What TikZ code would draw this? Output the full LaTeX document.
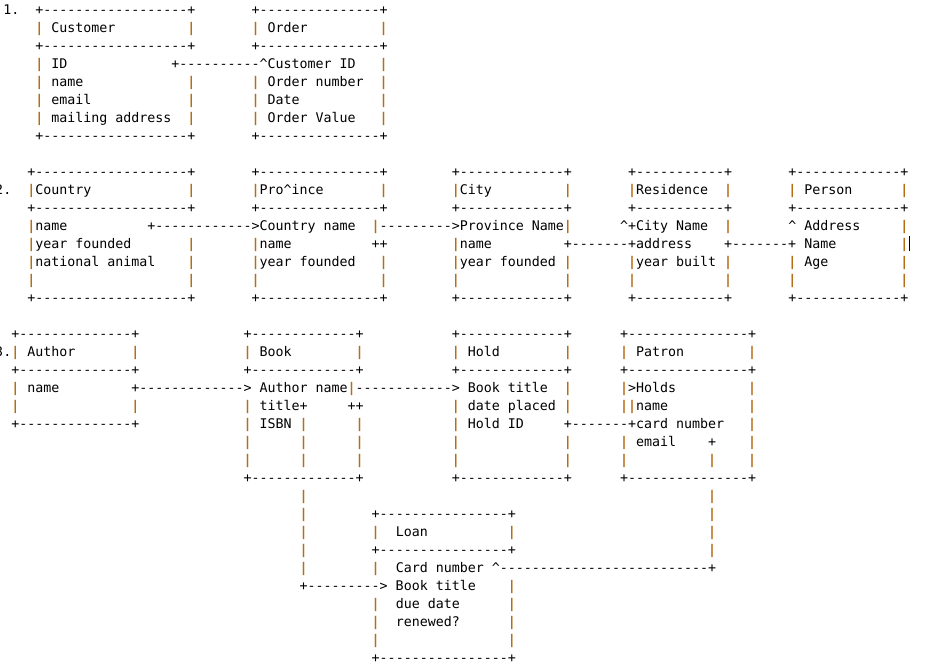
\documentclass[tikz,border=0pt]{standalone}
\usepackage{fontspec}
\setmonofont{DejaVu Sans Mono}
\definecolor{barorange}{RGB}{182,108,22}
\newlength{\charw}
\setlength{\charw}{8.01pt}
\newcommand{\vb}{\textcolor{barorange}{\bfseries|}}
\newcommand{\gap}[1]{\hspace*{#1\charw}}
\ExplSyntaxOn
\NewDocumentCommand{\dsh}{m}{\prg_replicate:nn{#1}{-}}
\ExplSyntaxOff

\begin{document}
\begin{tikzpicture}[
  x=8.01pt, y=-18pt,
  asc/.style={font=\ttfamily\fontsize{13.3045pt}{18pt}\selectfont,
    anchor=base west, inner sep=0pt, outer sep=0pt, text=black},
]

% Background
\path[fill=white, use as bounding box] (0.5936,-0.778) rectangle (117.57,36.28);

% =============================================
% 1. Customer -- Order
% =============================================
\node[asc] (ln0) at (1,0) {1.\gap{2}+\dsh{18}+\gap{7}+\dsh{15}+};
\node[asc] (ln1) at (5,1) {\vb\gap{1}Customer\gap{9}\vb\gap{7}\vb\gap{1}Order\gap{9}\vb};
\node[asc] (ln2) at (5,2) {+\dsh{18}+\gap{7}+\dsh{15}+};
\node[asc] (ln3) at (5,3) {\vb\gap{1}ID\gap{13}+\dsh{10}\textasciicircum Customer ID\gap{3}\vb};
\node[asc] (ln4) at (5,4) {\vb\gap{1}name\gap{13}\vb\gap{7}\vb\gap{1}Order number\gap{2}\vb};
\node[asc] (ln5) at (5,5) {\vb\gap{1}email\gap{12}\vb\gap{7}\vb\gap{1}Date\gap{10}\vb};
\node[asc] (ln6) at (5,6) {\vb\gap{1}mailing address\gap{2}\vb\gap{7}\vb\gap{1}Order Value\gap{3}\vb};
\node[asc] (ln7) at (5,7) {+\dsh{18}+\gap{7}+\dsh{15}+};

% =============================================
% 2. Country -- Province -- City -- Residence -- Person
% =============================================
\node[asc] (ln9) at (4,9)
  {+\dsh{19}+\gap{7}+\dsh{15}+\gap{8}+\dsh{13}+\gap{7}+\dsh{11}+\gap{7}+\dsh{13}+};
\node[asc] (ln10) at (0,10)
  {2.\gap{2}\vb Country\gap{12}\vb\gap{7}\vb Pro\textasciicircum ince\gap{7}\vb\gap{8}\vb City\gap{9}\vb\gap{7}\vb Residence\gap{2}\vb\gap{7}\vb\gap{1}Person\gap{6}\vb};
\node[asc] (ln11) at (4,11)
  {+\dsh{19}+\gap{7}+\dsh{15}+\gap{8}+\dsh{13}+\gap{7}+\dsh{11}+\gap{7}+\dsh{13}+};
\node[asc] (ln12) at (4,12)
  {\vb name\gap{10}+\dsh{12}>Country name\gap{2}\vb\dsh{9}>Province Name\vb\gap{6}\textasciicircum+City Name\gap{2}\vb\gap{7}\textasciicircum\gap{1}Address\gap{5}\vb};
\node[asc] (ln13) at (4,13)
  {\vb year founded\gap{7}\vb\gap{7}\vb name\gap{10}++\gap{8}\vb name\gap{9}+\dsh{7}+address\gap{4}+\dsh{7}+\gap{1}Name\gap{8}\vb};
\node[asc] (ln14) at (4,14)
  {\vb national animal\gap{4}\vb\gap{7}\vb year founded\gap{3}\vb\gap{8}\vb year founded\gap{1}\vb\gap{7}\vb year built\gap{1}\vb\gap{7}\vb\gap{1}Age\gap{9}\vb};
\node[asc] (ln15) at (4,15)
  {\vb\gap{19}\vb\gap{7}\vb\gap{15}\vb\gap{8}\vb\gap{13}\vb\gap{7}\vb\gap{11}\vb\gap{7}\vb\gap{13}\vb};
\node[asc] (ln16) at (4,16)
  {+\dsh{19}+\gap{7}+\dsh{15}+\gap{8}+\dsh{13}+\gap{7}+\dsh{11}+\gap{7}+\dsh{13}+};

% text cursor
\draw[line width=1pt] ([xshift=0.6pt, yshift=-3.3pt]ln13.base east) -- ++(0,15.3pt);

% =============================================
% 3. Author -- Book -- Hold -- Patron -- Loan
% =============================================
\node[asc] (ln18) at (2,18) {+\dsh{14}+\gap{13}+\dsh{13}+\gap{11}+\dsh{13}+\gap{6}+\dsh{15}+};
\node[asc] (ln19) at (0,19)
  {3.\vb\gap{1}Author\gap{7}\vb\gap{13}\vb\gap{1}Book\gap{8}\vb\gap{11}\vb\gap{1}Hold\gap{8}\vb\gap{6}\vb\gap{1}Patron\gap{8}\vb};
\node[asc] (ln20) at (2,20) {+\dsh{14}+\gap{13}+\dsh{13}+\gap{11}+\dsh{13}+\gap{6}+\dsh{15}+};
\node[asc] (ln21) at (2,21)
  {\vb\gap{1}name\gap{9}+\dsh{13}>\gap{1}Author name\vb\dsh{12}>\gap{1}Book title\gap{2}\vb\gap{6}\vb>Holds\gap{9}\vb};
\node[asc] (ln22) at (2,22)
  {\vb\gap{14}\vb\gap{13}\vb\gap{1}title+\gap{5}++\gap{11}\vb\gap{1}date placed\gap{1}\vb\gap{6}\vb\vb name\gap{10}\vb};
\node[asc] (ln23) at (2,23)
  {+\dsh{14}+\gap{13}\vb\gap{1}ISBN\gap{1}\vb\gap{6}\vb\gap{11}\vb\gap{1}Hold ID\gap{5}+\dsh{7}+card number\gap{3}\vb};
\node[asc] (ln24) at (31,24) {\vb\gap{6}\vb\gap{6}\vb\gap{11}\vb\gap{13}\vb\gap{6}\vb\gap{1}email\gap{4}+\gap{4}\vb};
\node[asc] (ln25) at (31,25) {\vb\gap{6}\vb\gap{6}\vb\gap{11}\vb\gap{13}\vb\gap{6}\vb\gap{10}\vb\gap{4}\vb};
\node[asc] (ln26) at (31,26) {+\dsh{13}+\gap{11}+\dsh{13}+\gap{6}+\dsh{15}+};
\node[asc] (ln27) at (38,27) {\vb\gap{50}\vb};
\node[asc] (ln28) at (38,28) {\vb\gap{8}+\dsh{16}+\gap{24}\vb};
\node[asc] (ln29) at (38,29) {\vb\gap{8}\vb\gap{2}Loan\gap{10}\vb\gap{24}\vb};
\node[asc] (ln30) at (38,30) {\vb\gap{8}+\dsh{16}+\gap{24}\vb};
\node[asc] (ln31) at (38,31) {\vb\gap{8}\vb\gap{2}Card number\gap{1}\textasciicircum\dsh{26}+};
\node[asc] (ln32) at (38,32) {+\dsh{9}>\gap{1}Book title\gap{4}\vb};
\node[asc] (ln33) at (47,33) {\vb\gap{2}due date\gap{6}\vb};
\node[asc] (ln34) at (47,34) {\vb\gap{2}renewed?\gap{6}\vb};
\node[asc] (ln35) at (47,35) {\vb\gap{16}\vb};
\node[asc] (ln36) at (47,36) {+\dsh{16}+};

\end{tikzpicture}
\end{document}
